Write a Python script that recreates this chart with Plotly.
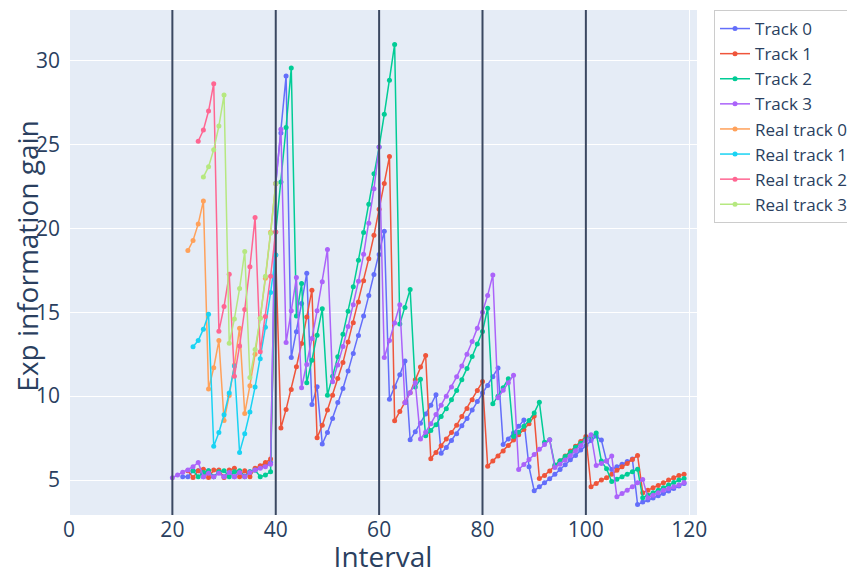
import plotly.graph_objects as go

# ---------------- data ----------------
t0_x = list(range(22, 120))
t0_y = [5.2, 5.2, 5.55, 5.55, 5.2, 5.55, 5.2, 5.5, 5.2, 5.5, 5.2, 5.5, 5.25, 5.5, 5.6, 5.75, 5.9, 6.05,  # 22-39
        22.66, 25.67, 29.07, 12.3, 13.83, 15.52, 17.32, 9.5, 10.56, 7.15,                            # 40-49
        7.84, 8.67, 9.62, 10.46, 11.49, 12.54, 13.61, 14.78, 15.99, 17.24,                           # 50-59
        18.43, 19.82, 9.82, 10.54, 11.27, 12.1, 7.4, 7.88, 8.39, 8.93,                               # 60-69
        9.46, 10.08, 6.6, 6.94, 7.36, 7.76, 8.23, 8.67, 9.17, 9.68,                                  # 70-79
        10.18, 10.63, 11.15, 11.67, 7.12, 7.44, 7.8, 8.2, 8.58, 5.79,                                # 80-89
        4.37, 4.6, 4.84, 5.08, 5.34, 5.63, 5.91, 6.21, 6.47, 6.79,                                   # 90-99
        7.06, 7.36, 7.62, 7.38, 6.13, 5.63, 5.79, 5.95, 6.1, 6.25,                                   # 100-109
        3.55, 3.69, 3.81, 3.93, 4.07, 4.2, 4.35, 4.5, 4.65, 4.8]                                     # 110-119

t1_x = list(range(23, 120))
t1_y = [5.55, 5.15, 5.55, 5.65, 5.15, 5.6, 5.6, 5.15, 5.6, 5.7, 5.2, 5.55, 5.2, 5.7, 5.85, 6.05, 6.25,  # 23-39
        18.41, 8.1, 9.21, 10.4, 11.75, 13.13, 14.72, 16.31, 7.52, 8.27,                              # 40-49
        9.17, 10.06, 11.05, 12.0, 13.23, 14.37, 15.6, 16.87, 18.19, 19.58,                           # 50-59
        21.13, 22.66, 24.27, 8.53, 9.09, 9.62, 10.2, 10.97, 11.73, 12.42,                            # 60-69
        6.27, 6.65, 7.04, 7.44, 7.84, 8.27, 8.79, 9.27, 9.78, 10.34,                                 # 70-79
        10.87, 5.83, 6.13, 6.43, 6.73, 7.06, 7.38, 7.7, 8.02, 8.35,                                  # 80-89
        8.81, 5.1, 5.28, 5.54, 5.83, 6.13, 6.43, 6.73, 7.02, 7.3,                                    # 90-99
        7.6, 4.6, 4.8, 5.0, 5.14, 5.34, 5.58, 5.79, 5.99, 6.23,                                      # 100-109
        6.47, 4.25, 4.4, 4.54, 4.68, 4.84, 5.0, 5.14, 5.28, 5.34]                                    # 110-119

t2_x = list(range(24, 120))
t2_y = [5.55, 5.2, 5.45, 5.55, 5.2, 5.5, 5.55, 5.2, 5.5, 5.55, 5.2, 5.5, 5.6, 5.2, 5.3, 5.5,      # 24-39
        19.78, 22.76, 26.0, 29.54, 14.78, 16.71, 10.79, 12.14, 13.63, 15.2,                          # 40-49
        10.06, 11.19, 12.34, 13.69, 15.06, 16.51, 18.1, 19.74, 21.43, 23.25,                         # 50-59
        24.84, 26.79, 28.81, 30.95, 14.29, 15.28, 16.35, 10.55, 11.0, 7.64,                          # 60-69
        7.96, 8.29, 8.79, 9.25, 9.78, 10.34, 10.97, 11.65, 12.36, 13.11,                             # 70-79
        13.85, 15.24, 9.54, 10.0, 10.5, 11.03, 7.6, 7.85, 8.2, 8.55,                                 # 80-89
        9.0, 9.64, 7.25, 7.4, 5.9, 6.15, 6.4, 6.65, 6.95, 7.2,                                       # 90-99
        7.45, 7.6, 7.8, 6.13, 5.67, 4.92, 5.05, 5.2, 5.35, 5.5,                                      # 100-109
        5.65, 3.95, 4.1, 4.25, 4.4, 4.55, 4.7, 4.85, 5.0, 5.1]                                       # 110-119

t3_x = list(range(20, 120))
t3_y = [5.14, 5.3, 5.46, 5.6, 5.8, 6.05, 5.2, 5.4, 5.2, 5.4, 5.2, 5.45, 5.2, 5.45, 5.2, 5.45, 5.6, 5.7, 5.8, 5.95,  # 20-39
        22.66, 25.9, 13.19, 15.08, 17.06, 10.5, 11.89, 13.43, 15.08, 16.81,                          # 40-49
        18.73, 10.85, 11.85, 12.95, 14.15, 15.45, 16.85, 18.45, 20.3, 22.35,                         # 50-59
        24.84, 12.3, 13.31, 14.35, 15.44, 9.6, 10.2, 10.8, 7.45, 7.85,                               # 60-69
        8.35, 8.9, 9.45, 10.0, 10.55, 11.15, 11.8, 12.5, 13.25, 14.05,                               # 70-79
        15.0, 16.0, 17.22, 9.9, 10.35, 10.8, 11.25, 5.63, 5.93, 6.23,                                # 80-89
        6.53, 6.83, 7.12, 7.4, 5.75, 5.95, 6.2, 6.45, 6.75, 7.05,                                    # 90-99
        7.35, 7.7, 5.87, 5.99, 6.13, 6.43, 4.0, 4.2, 4.4, 4.6,                                       # 100-109
        4.84, 5.04, 3.95, 4.1, 4.25, 4.4, 4.5, 4.6, 4.7, 4.85]                                       # 110-119

r0_x = list(range(23, 41))
r0_y = [18.67, 19.27, 20.26, 21.63, 10.42, 11.69, 13.31, 8.55, 10.04, 11.85,
        14.05, 8.97, 10.62, 12.5, 14.66, 17.02, 19.76, 22.66]

r1_x = list(range(24, 41))
r1_y = [12.94, 13.31, 13.99, 14.88, 7.02, 7.84, 8.89, 10.18, 11.79, 6.65,
        7.76, 9.05, 10.54, 12.22, 14.1, 16.17, 18.41]

r2_x = list(range(25, 41))
r2_y = [25.18, 25.85, 26.98, 28.61, 13.87, 15.34, 17.26, 11.19, 12.99, 15.16,
        17.7, 20.64, 12.64, 14.74, 17.14, 19.78]

r3_x = list(range(26, 41))
r3_y = [23.05, 23.67, 24.68, 26.09, 27.94, 13.15, 14.6, 16.41, 18.61, 11.11,
        12.78, 14.64, 17.14, 19.7, 22.66]

series = [
    ("Track 0", t0_x, t0_y, "#636EFA"),
    ("Track 1", t1_x, t1_y, "#EF553B"),
    ("Track 2", t2_x, t2_y, "#00CC96"),
    ("Track 3", t3_x, t3_y, "#AB63FA"),
    ("Real track 0", r0_x, r0_y, "#FFA15A"),
    ("Real track 1", r1_x, r1_y, "#19D3F3"),
    ("Real track 2", r2_x, r2_y, "#FF6692"),
    ("Real track 3", r3_x, r3_y, "#B6E880"),
]

interval_marks = [20, 40, 60, 80, 100]
y_title = "Exp information gain"

# ---------------- figure ----------------
fig = go.Figure()
for name, xs, ys, col in series:
    fig.add_trace(go.Scatter(x=xs, y=ys, mode="lines+markers", name=name,
                             line=dict(color=col, width=1.5),
                             marker=dict(color=col, size=5)))

for xv in interval_marks:
    fig.add_vline(x=xv, line=dict(color="#3b4861", width=2))

# y-axis title drawn as rotated text placed close to the figure's left edge
fig.add_annotation(text=y_title, xref="paper", yref="paper", x=-0.0665, y=0.512,
                   xanchor="center", yanchor="middle", textangle=-90, showarrow=False,
                   font=dict(size=28, color="#2a3f5f"))

# the page adds an 8px body margin, so the figure is sized/offset to compensate
fig.update_layout(
    width=847, height=567,
    template="plotly",
    font=dict(family="Open Sans, Verdana, Arial, sans-serif", color="#2a3f5f"),
    margin=dict(l=61, r=158, t=2, b=60, autoexpand=False),
    xaxis=dict(title=dict(text="Interval", font=dict(size=28), standoff=8),
               range=[0, 121.5], tickfont=dict(size=21), dtick=20,
               automargin=False, ticklabelstandoff=0),
    yaxis=dict(range=[2.92, 33.0], tickfont=dict(size=21), dtick=5,
               automargin=False, ticklabelstandoff=8),
    legend=dict(font=dict(size=17), bordercolor="#cccccc", borderwidth=1,
                bgcolor="white", x=1.0271, y=1.0, xanchor="left", yanchor="top",
                tracegroupgap=0),
)

fig.write_html("out.html")
